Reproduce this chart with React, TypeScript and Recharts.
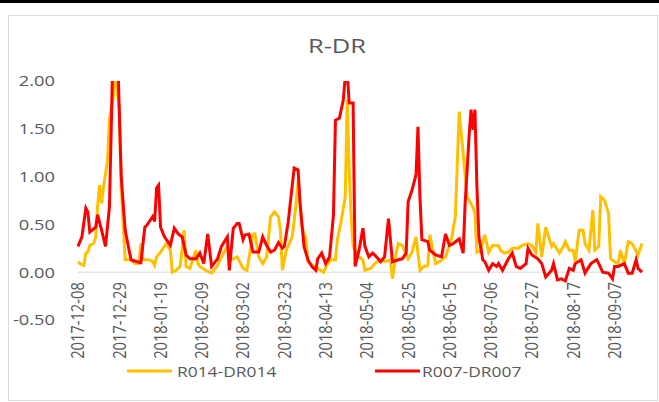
import { LineChart, Line, XAxis, YAxis, ReferenceLine } from "recharts";

// days counted from 2017-12-08
const orangeDays = [
  0, 1, 3, 4, 5, 6, 8, 9, 10, 11, 12, 13, 15, 16, 18, 19, 21, 22, 24, 27, 29, 31, 32, 33, 36, 38, 39, 40, 42, 45,
  47, 48, 50, 52, 54, 55, 57, 60, 61, 62, 65, 68, 71, 73, 76, 77, 79, 81, 84, 86, 89, 90, 92, 94, 96, 98, 100, 102,
  103, 104, 106, 109, 111, 112, 114, 116, 117, 120, 122, 125, 127, 129, 131, 132, 134, 136, 137, 138, 139, 140, 143,
  145, 146, 149, 151, 154, 156, 159, 160, 162, 163, 165, 168, 170, 172, 174, 176, 178, 179, 182, 184, 187, 190, 192,
  194, 196, 198, 201, 202, 203, 205, 207, 209, 211, 214, 215, 217, 219, 221, 224, 226, 229, 231, 233, 234, 236, 238,
  241, 242, 245, 247, 248, 250, 252, 253, 255, 257, 258, 260, 262, 263, 265, 266, 268, 270, 271, 273, 275, 276, 278,
  280, 282, 285, 287,
];
const orangeValues = [
  0.11, 0.09, 0.07, 0.2, 0.21, 0.28, 0.3, 0.37, 0.7, 0.91, 0.72, 0.89, 1.17, 1.6, 1.84, 2.1, 1.7, 0.89, 0.13, 0.13,
  0.09, 0.09, 0.3, 0.13, 0.13, 0.11, 0.07, 0.16, 0.21, 0.3, 0.23, 0.0, 0.02, 0.06, 0.44, 0.06, 0.04, 0.23, 0.09, 0.06,
  0.02, -0.01, 0.07, 0.16, 0.27, 0.13, 0.14, 0.16, 0.04, 0.02, 0.4, 0.4, 0.16, 0.09, 0.16, 0.58, 0.63, 0.58, 0.44,
  0.02, 0.23, 0.37, 0.72, 0.96, 0.47, 0.34, 0.11, 0.06, 0.04, 0.0, 0.09, 0.13, 0.13, 0.34, 0.54, 0.79, 1.8, 1.07, 0.58,
  0.27, 0.16, 0.13, 0.02, 0.04, 0.09, 0.13, 0.11, 0.13, -0.07, 0.21, 0.3, 0.28, 0.14, 0.21, 0.37, 0.02, 0.06, 0.07,
  0.39, 0.09, 0.11, 0.16, 0.34, 0.58, 1.68, 1.24, 0.79, 0.68, 0.61, 0.21, 0.23, 0.39, 0.21, 0.28, 0.28, 0.23, 0.2,
  0.21, 0.25, 0.25, 0.28, 0.3, 0.28, 0.21, 0.51, 0.16, 0.47, 0.27, 0.3, 0.2, 0.27, 0.32, 0.23, 0.23, 0.11, 0.44, 0.44,
  0.3, 0.23, 0.65, 0.23, 0.27, 0.79, 0.75, 0.61, 0.14, 0.11, 0.09, 0.23, 0.09, 0.32, 0.3, 0.18, 0.3,
];

const redDays = [
  0, 2, 4, 5, 6, 9, 10, 12, 14, 16, 18, 20, 22, 24, 26, 27, 30, 32, 34, 35, 38, 39, 40, 41, 42, 44, 47, 49, 51, 53,
  55, 57, 60, 62, 64, 66, 68, 71, 73, 76, 77, 79, 81, 82, 84, 85, 87, 89, 92, 94, 96, 98, 100, 102, 104, 105, 107,
  108, 110, 112, 113, 115, 117, 119, 121, 122, 124, 126, 128, 130, 131, 133, 135, 136, 137, 138, 140, 141, 143, 145,
  146, 148, 150, 151, 154, 156, 158, 160, 163, 165, 167, 168, 170, 172, 173, 174, 175, 178, 179, 182, 185, 187, 189,
  191, 194, 196, 197, 199, 200, 201, 202, 203, 204, 206, 207, 209, 211, 213, 214, 216, 219, 221, 223, 225, 228, 229,
  231, 234, 236, 238, 241, 242, 244, 246, 248, 250, 252, 253, 256, 258, 261, 264, 265, 267, 270, 272, 273, 275, 278,
  280, 282, 284, 285, 287,
];
const redValues = [
  0.27, 0.37, 0.67, 0.63, 0.42, 0.47, 0.6, 0.44, 0.27, 0.68, 2.5, 2.4, 1.0, 0.44, 0.23, 0.13, 0.11, 0.1, 0.47, 0.49,
  0.58, 0.53, 0.88, 0.91, 0.47, 0.37, 0.28, 0.46, 0.4, 0.37, 0.18, 0.14, 0.14, 0.2, 0.09, 0.4, 0.06, 0.14, 0.27, 0.37,
  0.02, 0.46, 0.51, 0.51, 0.34, 0.39, 0.4, 0.21, 0.21, 0.37, 0.28, 0.21, 0.23, 0.31, 0.25, 0.27, 0.53, 0.72, 1.09,
  1.07, 0.72, 0.27, 0.13, 0.06, 0.02, 0.14, 0.2, 0.09, 0.16, 0.6, 1.59, 1.61, 1.8, 2.05, 2.1, 1.77, 1.77, 0.06, 0.23,
  0.46, 0.27, 0.16, 0.2, 0.18, 0.11, 0.16, 0.56, 0.11, 0.13, 0.14, 0.2, 0.74, 0.86, 1.02, 1.52, 0.79, 0.34, 0.32, 0.23,
  0.18, 0.16, 0.4, 0.28, 0.3, 0.35, 0.2, 0.72, 1.42, 1.7, 1.49, 1.7, 0.89, 0.37, 0.13, 0.11, 0.02, 0.09, 0.06, 0.09,
  0.02, 0.14, 0.2, 0.06, 0.04, 0.09, 0.25, 0.18, 0.14, 0.09, -0.05, 0.02, 0.09, -0.08, -0.07, -0.09, 0.04, 0.02, 0.09,
  0.13, -0.01, 0.09, 0.13, 0.09, 0.0, -0.01, -0.07, 0.06, 0.06, 0.09, -0.01, -0.01, 0.13, 0.04, 0.0,
];

const tickDates = [
  "2017-12-08", "2017-12-29", "2018-01-19", "2018-02-09", "2018-03-02", "2018-03-23", "2018-04-13",
  "2018-05-04", "2018-05-25", "2018-06-15", "2018-07-06", "2018-07-27", "2018-08-17", "2018-09-07",
];
const yTicks = [-0.5, 0, 0.5, 1, 1.5, 2];

const START = Date.UTC(2017, 11, 8);
const dayOf = (s: string) => {
  const [y, m, d] = s.split("-").map(Number);
  return Math.round((Date.UTC(y, m - 1, d) - START) / 86400000);
};
const tickDays = tickDates.map(dayOf);

const orangeData = orangeDays.map((day, i) => ({ day, value: orangeValues[i] }));
const redData = redDays.map((day, i) => ({ day, value: redValues[i] }));

const FONT = "'Open Sans', 'DejaVu Sans', sans-serif";
const TEXT = "#595959";
const PLOT_TOP = 81;
const PLOT_BOTTOM = 320;
const ZERO_Y = PLOT_TOP + (PLOT_BOTTOM - PLOT_TOP) * (2 / 2.5);

function XTick({ x, payload }: any) {
  const d = new Date(START + payload.value * 86400000);
  const label = d.toISOString().slice(0, 10);
  return (
    <text
      transform={`translate(${x}, ${ZERO_Y + 10}) scale(1.2, 1) rotate(-90)`}
      textAnchor="end"
      dy="0.36em"
      fontSize={14.7}
      fontFamily={FONT}
      fill={TEXT}
    >
      {label}
    </text>
  );
}

function YTick({ x, y, payload }: any) {
  return (
    <text
      transform={`translate(${x}, ${y}) scale(1.22, 1)`}
      textAnchor="end"
      dy="0.36em"
      fontSize={15}
      fontFamily={FONT}
      fill={TEXT}
    >
      {Number(payload.value).toFixed(2)}
    </text>
  );
}

export default function App() {
  return (
    <div style={{ position: "absolute", left: 0, top: 0, width: 659, height: 402, background: "#fff" }}>
      <div style={{ position: "absolute", left: 0, top: 0, width: 659, height: 3, background: "#000" }} />
      <div
        style={{
          position: "absolute",
          left: 8,
          top: 15,
          width: 650,
          height: 386,
          border: "1px solid #d9d9d9",
          boxSizing: "border-box",
        }}
      />
      <div style={{ position: "absolute", left: 0, top: 0 }}>
        <LineChart width={659} height={402} margin={{ top: PLOT_TOP, right: 17, bottom: 402 - PLOT_BOTTOM - 10, left: 18 }}>
          <XAxis
            type="number"
            dataKey="day"
            domain={[0, 287]}
            ticks={tickDays}
            axisLine={false}
            tickLine={false}
            height={10}
            tick={<XTick />}
            interval={0}
            allowDuplicatedCategory={false}
          />
          <YAxis
            type="number"
            domain={[-0.5, 2]}
            ticks={yTicks}
            allowDataOverflow
            axisLine={false}
            tickLine={false}
            tickSize={0}
            tickMargin={23}
            width={60}
            tick={<YTick />}
          />
          <ReferenceLine y={0} stroke="#d9d9d9" strokeWidth={1} />
          <Line
            data={orangeData}
            dataKey="value"
            name="R014-DR014"
            stroke="#FFC000"
            strokeWidth={3}
            dot={false}
            type="linear"
            isAnimationActive={false}
          />
          <Line
            data={redData}
            dataKey="value"
            name="R007-DR007"
            stroke="#FF0000"
            strokeWidth={3}
            dot={false}
            type="linear"
            isAnimationActive={false}
          />
        </LineChart>
      </div>
      <svg width={659} height={402} style={{ position: "absolute", left: 0, top: 0, pointerEvents: "none" }}>
        <text
          transform="translate(337, 53) scale(1.3, 1)"
          textAnchor="middle"
          fontSize={19.6}
          fontFamily={FONT}
          fill={TEXT}
        >
          R-DR
        </text>
        <line x1={127} y1={371} x2={172} y2={371} stroke="#FFC000" strokeWidth={3} />
        <text transform="translate(177, 376.5) scale(1.16, 1)" fontSize={15} fontFamily={FONT} fill={TEXT}>
          R014-DR014
        </text>
        <line x1={375} y1={371} x2={420} y2={371} stroke="#FF0000" strokeWidth={3} />
        <text transform="translate(422, 376.5) scale(1.16, 1)" fontSize={15} fontFamily={FONT} fill={TEXT}>
          R007-DR007
        </text>
      </svg>
    </div>
  );
}
